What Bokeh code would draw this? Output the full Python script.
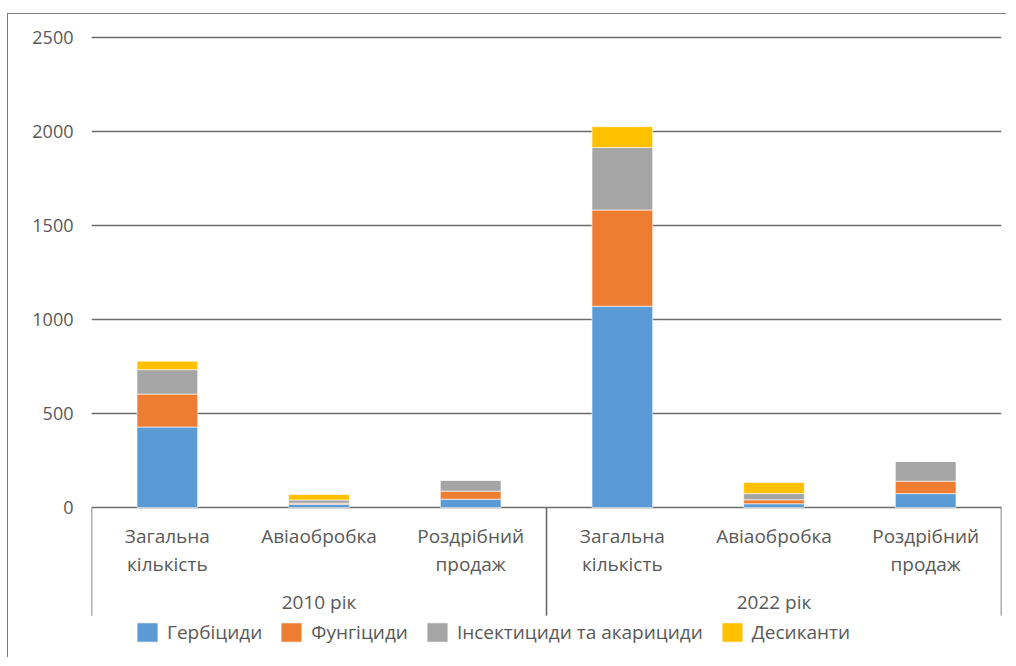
from bokeh.plotting import figure
from bokeh.models import FactorRange, Range1d, FixedTicker, ColumnDataSource
from bokeh.core.properties import value
from bokeh.embed import file_html
from bokeh.resources import INLINE

years = ["2010 рік", "2022 рік"]
types = ["Загальна кількість", "Авіаобробка", "Роздрібний продаж"]
type_labels = ["Загальна\nкількість", "Авіаобробка", "Роздрібний\nпродаж"]

herbicides = [428, 17, 44, 1070, 20, 74]
fungicides = [175, 6, 43, 512, 21, 66]
insecticides = [130, 17, 58, 333, 33, 105]
desiccants = [45, 29, 0, 110, 59, 0]

series = ["herb", "fung", "insect", "desic"]
series_labels = ["Гербіциди", "Фунгіциди", "Інсектициди та акарициди", "Десиканти"]
colors = ["#5B9BD5", "#ED7D31", "#A5A5A5", "#FFC000"]
y_ticks = [0, 500, 1000, 1500, 2000, 2500]

FONT = "Open Sans"
TEXT_COLOR = "#595959"
LINE_COLOR = "#6b6b6b"

x = [(yr, t) for yr in years for t in types]
source = ColumnDataSource(dict(x=x, herb=herbicides, fung=fungicides,
                               insect=insecticides, desic=desiccants))

p = figure(width=999, height=644, output_backend="svg", toolbar_location=None,
           x_range=FactorRange(factors=x, factor_padding=0, group_padding=0,
                               subgroup_padding=0, range_padding=0),
           y_range=Range1d(-803, 2510),
           min_border_left=83, min_border_right=6, min_border_top=21,
           min_border_bottom=0)
p.styles = {"border-left": "1.5px solid #7a7a7a", "border-top": "1.5px solid #7a7a7a",
            "margin-left": "7px", "margin-top": "13px"}
p.outline_line_color = None
p.background_fill_color = "white"

p.vbar_stack(series, x="x", width=0.4, source=source, color=colors,
             line_color="white", line_width=0.6, legend_label=series_labels)

p.xaxis.visible = False
p.xgrid.visible = False
p.yaxis.ticker = FixedTicker(ticks=y_ticks)
p.yaxis.axis_line_color = None
p.yaxis.major_tick_line_color = None
p.yaxis.minor_tick_line_color = None
p.yaxis.major_label_standoff = 12
p.yaxis.major_label_text_font = FONT
p.yaxis.major_label_text_font_size = "18px"
p.yaxis.major_label_text_color = TEXT_COLOR
p.ygrid.grid_line_color = LINE_COLOR
p.ygrid.grid_line_width = 1.6

# category labels under each bar
p.text(x=x, y=[0] * len(x), text=[type_labels[i % len(types)] for i in range(len(x))],
       text_align="center", text_baseline="top", y_offset=16,
       text_font=value(FONT), text_font_size="19px", text_color=TEXT_COLOR,
       text_line_height=1.05)

# group labels
group_x = [(yr, types[1]) for yr in years]
p.text(x=group_x, y=[0] * len(years), text=years,
       text_align="center", text_baseline="middle", y_offset=95,
       text_font=value(FONT), text_font_size="19px", text_color=TEXT_COLOR)

# group separators
bounds = [i * len(types) for i in range(len(years) + 1)]
p.segment(x0=bounds, y0=[0] * len(bounds), x1=bounds, y1=[-575] * len(bounds),
          line_color=LINE_COLOR, line_width=1.6)

lg = p.legend[0]
lg.location = (43, 6)
lg.orientation = "horizontal"
lg.background_fill_alpha = 0
lg.border_line_color = None
lg.label_text_font = FONT
lg.label_text_font_size = "19px"
lg.label_text_color = TEXT_COLOR
lg.glyph_width = 26
lg.glyph_height = 24
lg.label_height = 40
lg.label_standoff = 7
lg.spacing = 16
lg.padding = 0
lg.margin = 0

open("out.html", "w").write(file_html(p, INLINE))
